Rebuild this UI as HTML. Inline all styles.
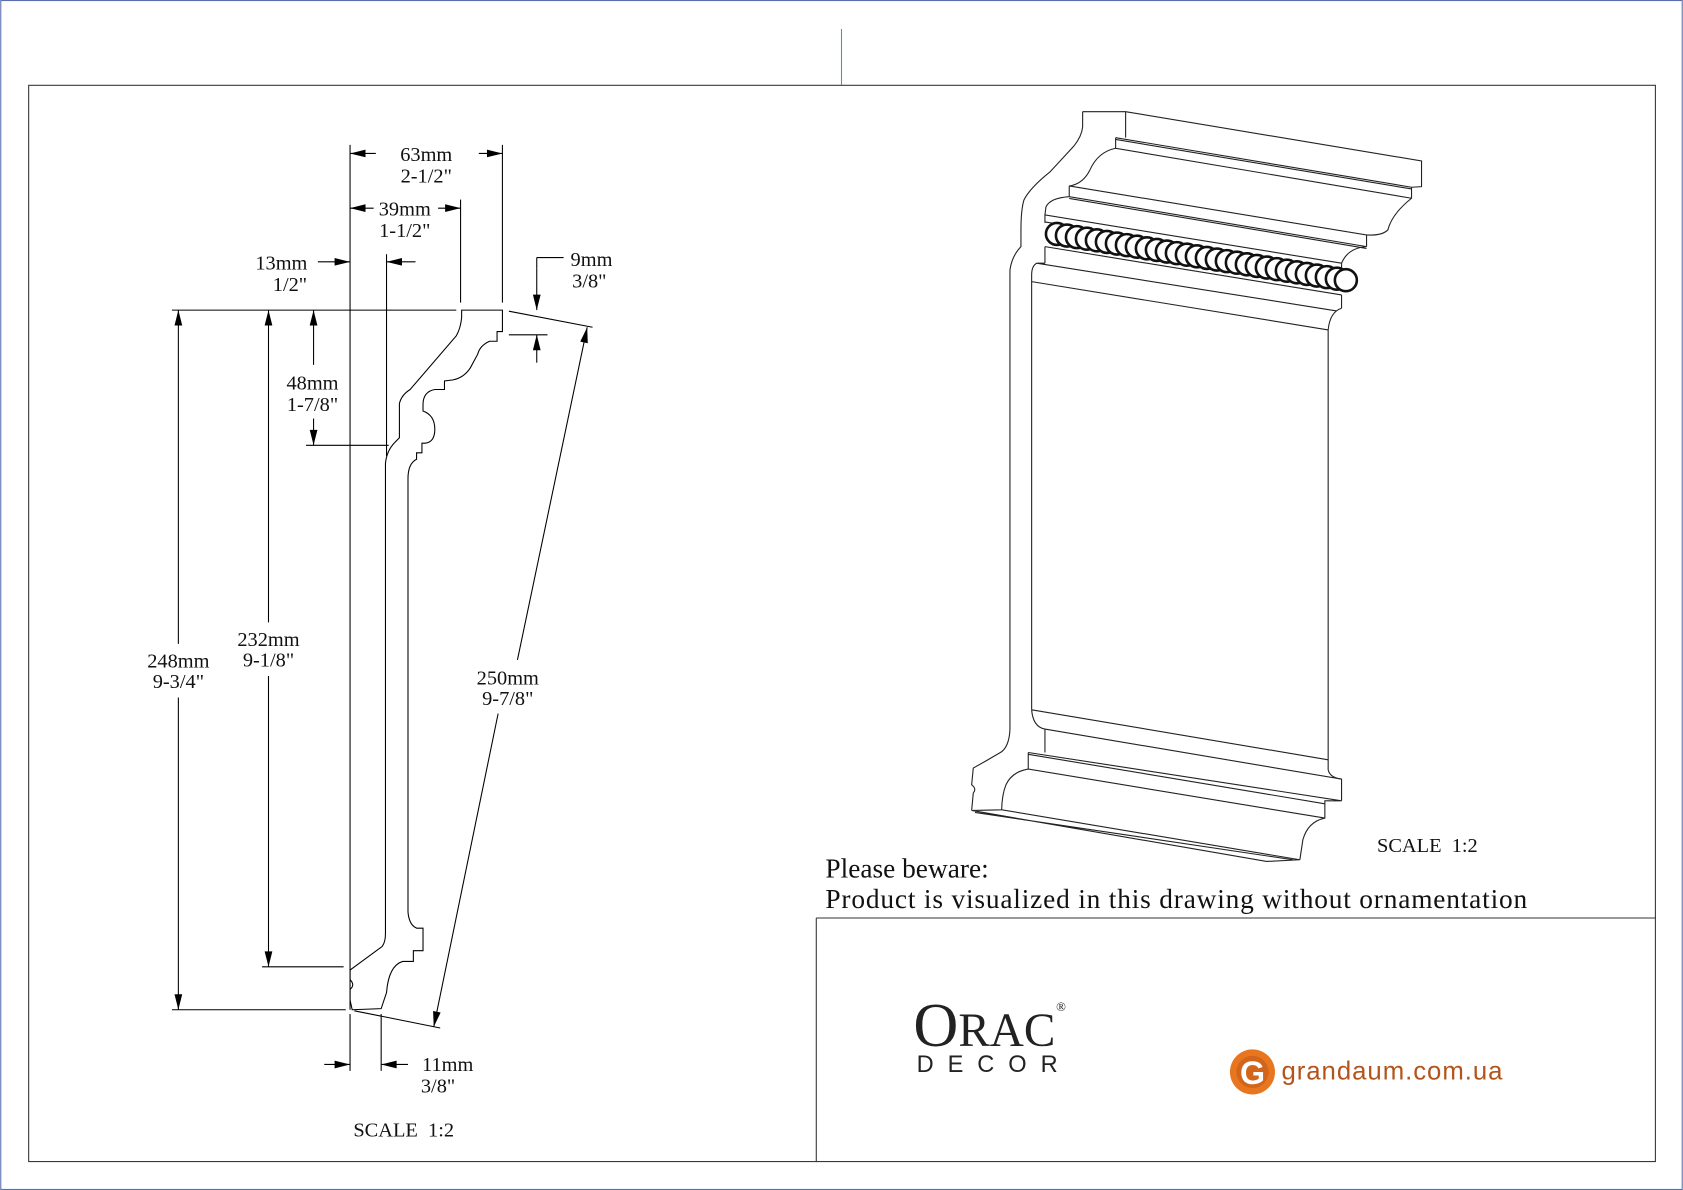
<!DOCTYPE html>
<html><head><meta charset="utf-8"><style>
html,body{margin:0;padding:0;background:#fff}
svg{display:block}
text{font-family:"Liberation Serif",serif}
</style></head><body>
<svg width="1683" height="1190" viewBox="0 0 1568 1109" xmlns="http://www.w3.org/2000/svg">
<defs>
<marker id="a" viewBox="0 0 16 10" refX="16" refY="5" markerWidth="16" markerHeight="9" orient="auto-start-reverse" markerUnits="userSpaceOnUse"><path d="M0,1 L16,5 L0,9z" fill="#000"/></marker>
</defs>
<rect x="0.5" y="0.5" width="1567" height="1108" fill="none" stroke="#5a6fb0" stroke-width="1"/>
<line x1="784" y1="27" x2="784" y2="79" stroke="#4a9a9a" stroke-width="1"/>
<rect x="26.5" y="79.5" width="1516" height="1003" fill="none" stroke="#333" stroke-width="1"/>
<path d="M760.5 855.5 H1543 M760.5 855.5 V1083" fill="none" stroke="#333" stroke-width="1"/>

<g stroke="#000" stroke-width="1" fill="none">
<line x1="326" y1="135" x2="326" y2="941"/>
<line x1="468" y1="135" x2="468" y2="282"/>
<line x1="429" y1="186" x2="429" y2="282"/>
<line x1="360" y1="237" x2="360" y2="425"/>
<line x1="160" y1="289" x2="425" y2="289"/>
<line x1="285" y1="415" x2="362" y2="415"/>
<line x1="244" y1="901" x2="320" y2="901"/>
<line x1="160" y1="941" x2="322" y2="941"/>
<line x1="355" y1="945" x2="355" y2="998"/>
<line x1="326" y1="945" x2="326" y2="998"/>
<line x1="474" y1="290" x2="552" y2="305"/>
<line x1="474" y1="312" x2="510" y2="312"/>
<line x1="330" y1="942" x2="410" y2="958"/>
<line x1="500" y1="240" x2="525" y2="240"/>
<line x1="500" y1="240" x2="500" y2="250"/>
<line x1="350" y1="143" x2="326" y2="143" marker-end="url(#a)"/>
<line x1="446" y1="143" x2="468" y2="143" marker-end="url(#a)"/>
<line x1="348" y1="194" x2="326" y2="194" marker-end="url(#a)"/>
<line x1="408" y1="194" x2="429" y2="194" marker-end="url(#a)"/>
<line x1="296" y1="244" x2="326" y2="244" marker-end="url(#a)"/>
<line x1="387" y1="244" x2="360" y2="244" marker-end="url(#a)"/>
<line x1="500" y1="250" x2="500" y2="289" marker-end="url(#a)"/>
<line x1="500" y1="338" x2="500" y2="312" marker-end="url(#a)"/>
<line x1="166" y1="600" x2="166" y2="289" marker-end="url(#a)"/>
<line x1="166" y1="650" x2="166" y2="941" marker-end="url(#a)"/>
<line x1="250" y1="580" x2="250" y2="289" marker-end="url(#a)"/>
<line x1="250" y1="630" x2="250" y2="901" marker-end="url(#a)"/>
<line x1="292" y1="340" x2="292" y2="289" marker-end="url(#a)"/>
<line x1="292" y1="390" x2="292" y2="415" marker-end="url(#a)"/>
<line x1="482" y1="615" x2="547" y2="305" marker-end="url(#a)"/>
<line x1="464" y1="665" x2="404" y2="957" marker-end="url(#a)"/>
<line x1="302" y1="992" x2="326" y2="992" marker-end="url(#a)"/>
<line x1="380" y1="992" x2="355" y2="992" marker-end="url(#a)"/>
<path d="M430 289 H468 V309 H463 V318 H456 Q447 322 445 330 L438 343 Q432 352 422 354 L414 355 V363 H405 Q394 365 394 377 V383 Q405 387 405 400 Q405 412 396 413 L393 413 V422 H388 V428 Q380 432 380 446 V850 Q381 862 388 865 H394 V886 H385 V896 H375 Q362 900 360 925 L355 940 L328 941 L326 932 V922 Q331 918 326 913 V904 L356 882 Q359 878 359 870 V432 Q360 420 368 412 L372 408 V376 Q374 368 382 363 L425 313 Q429 306 430 296 Z"/>
</g>

<g font-size="19" text-anchor="middle" style="fill:#111">
<text x="397" y="150">63mm</text><text x="397" y="170">2-1/2"</text>
<text x="377" y="201">39mm</text><text x="377" y="221">1-1/2"</text>
<text x="262" y="251">13mm</text><text x="270" y="271">1/2"</text>
<text x="551" y="248">9mm</text><text x="549" y="268">3/8"</text>
<text x="291" y="363">48mm</text><text x="291" y="383">1-7/8"</text>
<text x="166" y="622">248mm</text><text x="166" y="641">9-3/4"</text>
<text x="250" y="602">232mm</text><text x="250" y="621">9-1/8"</text>
<text x="473" y="638">250mm</text><text x="473" y="657">9-7/8"</text>
<text x="417" y="998">11mm</text><text x="408" y="1018">3/8"</text>
<text x="376" y="1059">SCALE&#160;&#160;1:2</text>
<text x="1330" y="794">SCALE&#160;&#160;1:2</text>
</g>
<text x="769" y="818" font-size="25.5" style="fill:#111">Please beware:</text>
<text x="769" y="846" font-size="25.5" textLength="654" style="fill:#111">Product is visualized in this drawing without ornamentation</text>

<g transform="scale(0.93167)" stroke="#222" stroke-width="1.1" fill="none">
<path d="M1082.7 111.7 H1125.7 V137.7 M1125.7 111.7 L1421.7 161 V186.7 L1411.7 187.3 M1115.7 137.7 L1411.7 187.3 M1115.7 139.5 L1411.7 189 M1115.7 137.7 V148.3 L1411.7 198.3 M1411.7 187.3 V198.3 Q1392 214 1388 230 Q1382 236 1366.7 235"/>
<path d="M1115.7 148.3 Q1098 152 1090 170 Q1083 184 1069.3 186 L1366.7 235 V246.7 M1069.3 186 V196.7 L1366.7 246.7 M1069.3 196.7 Q1050 198 1046 207 L1045 215 L1341.7 263.3 M1366.7 246.7 Q1348 248 1341.7 263.3 M1069.3 198.5 L1366.7 248.5"/>
<path d="M1045 215 V223 M1045 246.7 V263.3 M1341.7 263.3 V270 M1341.7 295 V308.3 M1045 246.7 L1341.7 295 M1045 222 L1341.7 270"/>
<path d="M1082.7 111.7 V126.7 Q1082 136 1074 146 L1050 172 Q1030 188 1024 200 Q1021 210 1021 230 V246.7 Q1012 256 1010 270 V730 Q1009 748 1000 753 L985 761.7 L973.3 768.3 L971.7 785 Q977 789 973.3 793.3 L971.7 810.7"/>
<path d="M1045 263.3 H1036.7 Q1031.7 266 1031.7 275 V710 M1036.7 263.3 L1336.7 311 M1031.7 281.7 L1328.3 330 M1341.7 308.3 Q1330 312 1328.3 330 V770 Q1330 778 1341.7 779.3"/>
<path d="M1031.7 710 L1328.3 760 M1031.7 710 Q1033 727 1045 729.3 L1341.7 779.3 V801 M1045 729.3 V752.7 M1028.3 752.7 L1341.7 801 M1028.3 754.5 L1325 804 M1028.3 752.7 V769.3 L1325 818.3 M1341.7 801 H1325 V818.3 Q1308 822 1303 840 L1300 860"/>
<path d="M1028.3 769.3 Q1012 772 1006 785 Q1002 795 1001.7 810 L1300 860 M973.3 810.7 L1001.7 810 M971.7 810.7 L1266.7 861.7 L1300 860 M975 812.7 L1293 860"/>
</g>
<g transform="scale(0.93167)" stroke="#111" stroke-width="2.6" fill="#fff">
<circle cx="1057" cy="234" r="11"/><circle cx="1067" cy="235.6" r="11"/><circle cx="1077" cy="237.2" r="11"/><circle cx="1087" cy="238.8" r="11"/><circle cx="1097" cy="240.4" r="11"/><circle cx="1107" cy="242" r="11"/><circle cx="1117" cy="243.6" r="11"/><circle cx="1127" cy="245.2" r="11"/><circle cx="1137" cy="246.8" r="11"/><circle cx="1147" cy="248.4" r="11"/><circle cx="1157" cy="250" r="11"/><circle cx="1167" cy="251.6" r="11"/><circle cx="1177" cy="253.2" r="11"/><circle cx="1187" cy="254.8" r="11"/><circle cx="1197" cy="256.4" r="11"/><circle cx="1207" cy="258" r="11"/><circle cx="1217" cy="259.6" r="11"/><circle cx="1227" cy="261.2" r="11"/><circle cx="1237" cy="262.8" r="11"/><circle cx="1247" cy="264.4" r="11"/><circle cx="1257" cy="266" r="11"/><circle cx="1267" cy="267.6" r="11"/><circle cx="1277" cy="269.2" r="11"/><circle cx="1287" cy="270.8" r="11"/><circle cx="1297" cy="272.4" r="11"/><circle cx="1307" cy="274" r="11"/><circle cx="1317" cy="275.6" r="11"/><circle cx="1327" cy="277.2" r="11"/><circle cx="1337" cy="278.8" r="11"/><circle cx="1346" cy="280.3" r="11"/>
</g>

<text x="851" y="975" font-size="58" style="fill:#222">O<tspan font-size="44">RAC</tspan></text>
<text x="984" y="942" font-size="12" style="fill:#222">®</text>
<text x="854" y="999" font-size="22" letter-spacing="13" style="font-family:'Liberation Sans',sans-serif;fill:#222">DECOR</text>
<circle cx="1167" cy="999" r="21" fill="#e8761e"/>
<circle cx="1167" cy="999" r="15" fill="#d2651a"/>
<text x="1167" y="1010" font-size="30" text-anchor="middle" style="font-family:'Liberation Sans',sans-serif;font-weight:bold;fill:#fff">G</text>
<text x="1194" y="1006" font-size="24" textLength="206" style="font-family:'Liberation Sans',sans-serif;fill:#b4541a">grandaum.com.ua</text>
</svg>
</body></html>
